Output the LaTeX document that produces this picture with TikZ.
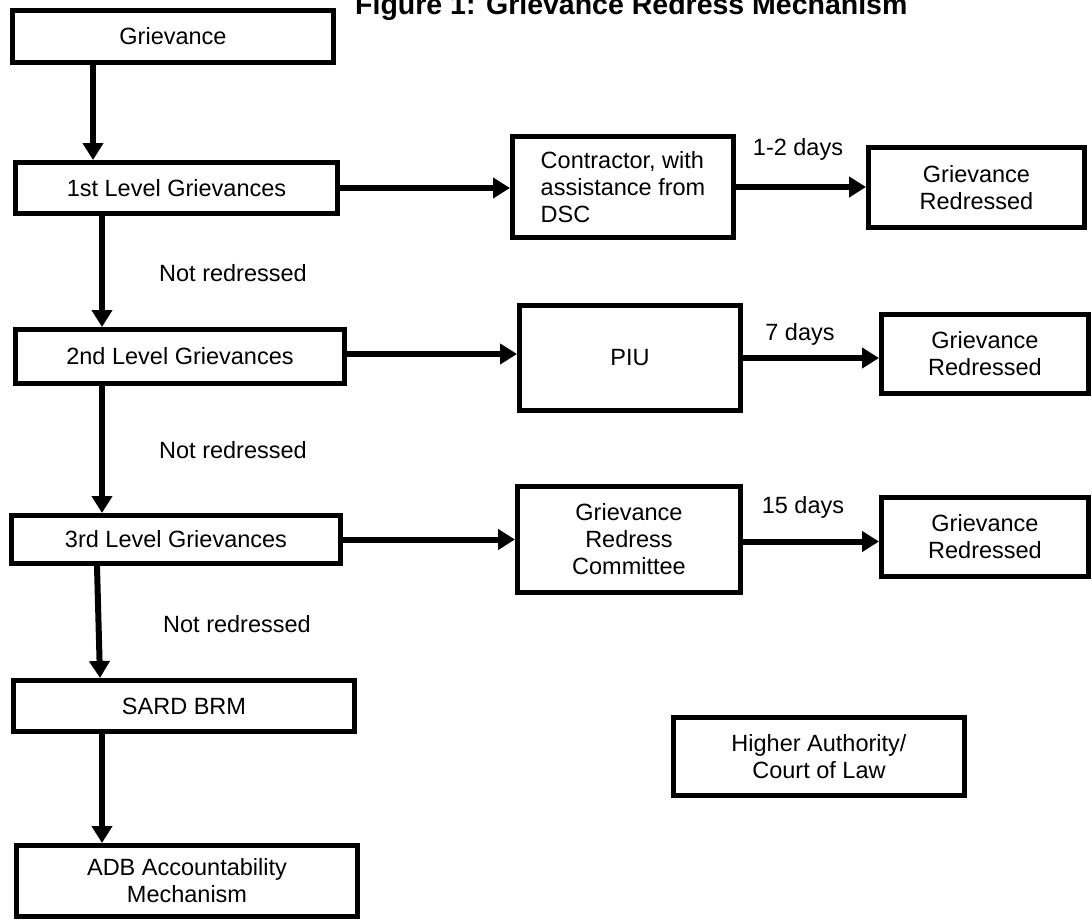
\documentclass[tikz,border=0pt]{standalone}
\usepackage{fontspec}
\setmainfont{Liberation Sans}
\usetikzlibrary{arrows.meta}
\begin{document}
\begin{tikzpicture}[x=1pt,y=-1pt,
  box/.style={draw=black, line width=5pt, inner sep=2pt, align=center, font=\fontsize{23.5}{27}\selectfont},
  lbl/.style={inner sep=0pt, font=\fontsize{23.5}{27}\selectfont},
  arr/.style={line width=6pt, -{Triangle[length=17pt,width=20pt]}}]
\useasboundingbox[fill=white] (0,0) rectangle (1092,921);

% title
\node[anchor=base west, inner sep=0pt, font=\fontsize{28.5}{32}\selectfont\bfseries] (title) at (355,14) {Figure 1: Grievance Redress Mechanism};

% left column
\node[box, minimum width=321pt, minimum height=52pt] (g) at (173,36.5) {Grievance};
\node[box, minimum width=322pt, minimum height=51pt] (l1) at (176.5,188) {1st Level Grievances};
\node[box, minimum width=329pt, minimum height=54pt] (l2) at (180,356.5) {2nd Level Grievances};
\node[box, minimum width=329pt, minimum height=48pt] (l3) at (176,539.5) {3rd Level Grievances};
\node[box, minimum width=341pt, minimum height=51pt] (sard) at (184,706) {SARD BRM};
\node[box, minimum width=341pt, minimum height=71pt] (adb) at (187,881) {ADB Accountability\\Mechanism};

% middle column
\node[box, align=left, minimum width=221pt, minimum height=101pt] (con) at (623,187) {Contractor, with\\assistance from\\DSC};
\node[box, minimum width=221pt, minimum height=105pt] (piu) at (630,358) {PIU};
\node[box, minimum width=223pt, minimum height=106pt] (grc) at (629,539.5) {Grievance\\Redress\\Committee};

% right column
\node[box, minimum width=216pt, minimum height=80pt] (gr1) at (976.5,187.5) {Grievance\\Redressed};
\node[box, minimum width=207pt, minimum height=79pt] (gr2) at (985,354) {Grievance\\Redressed};
\node[box, minimum width=207pt, minimum height=79pt] (gr3) at (985,537) {Grievance\\Redressed};
\node[box, minimum width=291pt, minimum height=78pt] (ha) at (819,756.5) {Higher Authority/\\Court of Law};

% labels
\node[lbl] (nr1) at (233,273) {Not redressed};
\node[lbl] (nr2) at (233,450) {Not redressed};
\node[lbl] (nr3) at (237,624) {Not redressed};
\node[lbl] (d1) at (798,149) {1-2 days};
\node[lbl] (d2) at (800,334) {7 days};
\node[lbl] (d3) at (803,507) {15 days};

% vertical arrows
\draw[arr] ([xshift=-80pt]g.south) -- ([xshift=-83.5pt]l1.north);
\draw[arr] ([xshift=-74.5pt]l1.south) -- ([xshift=-78pt]l2.north);
\draw[arr] ([xshift=-78pt]l2.south) -- ([xshift=-74pt]l3.north);
\draw[arr] ([xshift=-79pt]l3.south) -- ([xshift=-84pt]sard.north);
\draw[arr] ([xshift=-82pt,yshift=4pt]sard.south) -- ([xshift=-85pt]adb.north);

% horizontal arrows
\draw[arr] (l1.east) -- (l1.east -| con.west);
\draw[arr] (con.east) -- (con.east -| gr1.west);
\draw[arr] ([yshift=2.5pt]l2.east) -- ([yshift=2.5pt]l2.east -| piu.west);
\draw[arr] (piu.east) -- (piu.east -| gr2.west);
\draw[arr] (l3.east) -- (l3.east -| grc.west);
\draw[arr] ([yshift=-2pt]grc.east) -- ([yshift=-2pt]grc.east -| gr3.west);
\end{tikzpicture}
\end{document}
